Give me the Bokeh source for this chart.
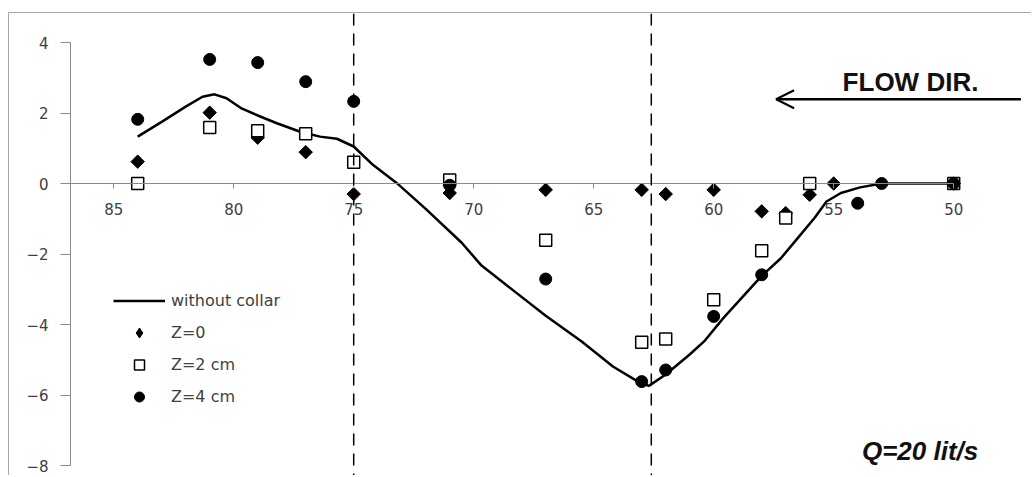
import numpy as np
from bokeh.plotting import figure
from bokeh.models import (Range1d, FixedTicker, Span, Arrow, OpenHead, Legend, LegendItem, Label)
from bokeh.embed import file_html
from bokeh.resources import INLINE

# ---------------- data ----------------
X_TICKS = [85, 80, 75, 70, 65, 60, 55, 50]
Y_TICKS = [-8, -6, -4, -2, 0, 2, 4]

LINE_X = [84, 83, 82, 81.3, 80.8, 80.3, 79.7, 79, 78.2, 77.2, 76.4, 75.7, 75, 74.2, 73.2,
          72, 70.5, 69.7, 68.3, 67, 65.5, 64.2, 63.1, 62.7, 62.0, 61.0, 60.4, 59.6, 58.0,
          57.2, 56.5, 55.8, 55.3, 54.7, 53.9, 53.0, 50]
LINE_Y = [1.33, 1.75, 2.18, 2.46, 2.53, 2.42, 2.14, 1.93, 1.71, 1.46, 1.33, 1.27, 1.05, 0.53, 0.01,
          -0.72, -1.68, -2.31, -3.06, -3.75, -4.48, -5.19, -5.64, -5.74, -5.42, -4.85, -4.48, -3.82, -2.62,
          -2.12, -1.55, -0.98, -0.51, -0.27, -0.11, 0.0, 0.0]

Z0_X = [84, 81, 79, 77, 75, 71, 67, 63, 62, 60, 58, 57, 56, 55, 50]
Z0_Y = [0.62, 2.01, 1.30, 0.89, -0.30, -0.27, -0.18, -0.18, -0.30, -0.18, -0.79, -0.84, -0.32, 0.0, 0.0]

Z2_X = [84, 81, 79, 77, 75, 71, 67, 63, 62, 60, 58, 57, 56, 50]
Z2_Y = [0.0, 1.59, 1.50, 1.41, 0.60, 0.10, -1.61, -4.50, -4.41, -3.30, -1.91, -0.98, 0.0, 0.0]

Z4_X = [84, 81, 79, 77, 75, 71, 67, 63, 62, 60, 58, 54, 53, 50]
Z4_Y = [1.82, 3.52, 3.43, 2.89, 2.33, -0.05, -2.71, -5.62, -5.29, -3.77, -2.59, -0.56, 0.0, 0.0]

DASHED_X = [75, 62.6]

# ---------------- figure ----------------
AXIS_GRAY = "#8a8a8a"
LABEL_GRAY = "#404040"

p = figure(width=1023, height=463,
           x_range=Range1d(86.8, 86.8 - 962 / 24.0),
           y_range=Range1d(-8.312, 4.823),
           output_backend="svg", toolbar_location=None,
           min_border_left=61, min_border_right=0, min_border_top=0, min_border_bottom=0,
           styles={"border-top": "1px solid #a6a6a6", "border-left": "1px solid #a6a6a6",
                   "margin-top": "12px", "margin-left": "8px"})
p.background_fill_color = "white"
p.border_fill_color = "white"
p.outline_line_color = None
p.xgrid.visible = False
p.ygrid.visible = False

# x axis crossing at y = 0
xa = p.xaxis[0]
xa.fixed_location = 0
xa.ticker = FixedTicker(ticks=X_TICKS)
xa.bounds = (50, 86.8)
xa.axis_line_color = AXIS_GRAY
xa.major_tick_line_color = AXIS_GRAY
xa.major_tick_out = 5
xa.major_tick_in = 0
xa.minor_tick_line_color = None
xa.major_label_standoff = 14
xa.major_label_text_font = "DejaVu Sans"
xa.major_label_text_font_size = "15px"
xa.major_label_text_color = LABEL_GRAY

ya = p.yaxis[0]
ya.ticker = FixedTicker(ticks=Y_TICKS)
ya.bounds = (-8, 4)
ya.axis_line_color = AXIS_GRAY
ya.major_tick_line_color = AXIS_GRAY
ya.major_tick_out = 10
ya.major_tick_in = 0
ya.minor_tick_line_color = None
ya.major_label_standoff = 12
ya.major_label_text_font = "DejaVu Sans"
ya.major_label_text_font_size = "15px"
ya.major_label_text_color = LABEL_GRAY

# series
r_line = p.line(LINE_X, LINE_Y, line_color="black", line_width=2.5)
# diamond key (lies fully inside the rotated squares; used for the legend swatch,
# since legend swatches ignore a marker's angle)
r_z0_key = p.scatter(Z0_X, Z0_Y, marker="diamond", size=12,
                     fill_color="black", line_color="black")
r_z0 = p.scatter(Z0_X, Z0_Y, marker="square", angle=np.pi / 4, size=9.5,
                 fill_color="black", line_color="black")
r_z2 = p.scatter(Z2_X, Z2_Y, marker="square", size=12,
                 fill_color="white", line_color="black", line_width=1.5)
r_z4 = p.scatter(Z4_X, Z4_Y, marker="circle", size=12,
                 fill_color="black", line_color="black")

for xv in DASHED_X:
    p.add_layout(Span(location=xv, dimension="height", line_color="black",
                      line_width=1.5, line_dash="12 8"))

# flow direction arrow and texts
p.add_layout(Arrow(x_start=47.2, y_start=2.39, x_end=57.4, y_end=2.39,
                   line_color="black", line_width=2.5,
                   end=OpenHead(size=18, line_color="black", line_width=2)))
p.add_layout(Label(x=51.8, y=2.88, text="FLOW DIR.", text_align="center",
                   text_baseline="middle", text_font="Liberation Sans",
                   text_font_style="bold", text_font_size="26px", text_color="#111111"))
p.add_layout(Label(x=51.4, y=-7.59, text="Q=20 lit/s", text_align="center",
                   text_baseline="middle", text_font="Liberation Sans",
                   text_font_style="bold italic", text_font_size="26px", text_color="#111111"))

legend = Legend(items=[
    LegendItem(label="without collar", renderers=[r_line]),
    LegendItem(label="Z=0", renderers=[r_z0_key]),
    LegendItem(label="Z=2 cm", renderers=[r_z2]),
    LegendItem(label="Z=4 cm", renderers=[r_z4]),
], location=(43, 67))
legend.glyph_width = 52
legend.glyph_height = 25
legend.label_height = 25
legend.spacing = 7
legend.padding = 0
legend.margin = 0
legend.label_standoff = 6
legend.label_text_font = "DejaVu Sans"
legend.label_text_font_size = "16px"
legend.label_text_color = LABEL_GRAY
legend.border_line_alpha = 0
legend.background_fill_alpha = 0
p.add_layout(legend, "center")

open("out.html", "w").write(file_html(p, INLINE))
